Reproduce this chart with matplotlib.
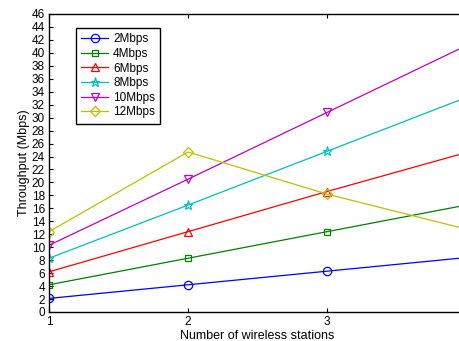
import matplotlib
matplotlib.use("Agg")
import matplotlib.pyplot as plt

plt.rcParams['font.family'] = ['Liberation Sans', 'DejaVu Sans']

stations = [1, 2, 3, 4]
labels = ["2Mbps", "4Mbps", "6Mbps", "8Mbps", "10Mbps", "12Mbps"]
tp_2 = [2.1, 4.2, 6.3, 8.4]
tp_4 = [4.2, 8.3, 12.4, 16.5]
tp_6 = [6.2, 12.4, 18.6, 24.6]
tp_8 = [8.3, 16.5, 24.8, 33.1]
tp_10 = [10.3, 20.5, 30.8, 41.1]
tp_12 = [12.4, 24.7, 18.2, 12.8]
series = [tp_2, tp_4, tp_6, tp_8, tp_10, tp_12]
colors = ['#0000ff', '#008000', '#ff0000', '#00bfbf', '#bf00bf', '#bfbf00']
markers = ['o', 's', '^', '*', 'v', 'D']
msizes = [6, 4.5, 6, 6.5, 6, 5]

fig = plt.figure(figsize=(4.6, 3.41), dpi=100)
ax = fig.add_axes([49/460, 29/341, 417/460, 298/341])

for vals, lab, c, m, ms in zip(series, labels, colors, markers, msizes):
    ax.plot(stations, vals, color=c, marker=m, markersize=ms, markerfacecolor='none',
            markeredgecolor=c, linewidth=0.9, markeredgewidth=0.9, label=lab)

ax.set_xlim(1, 4)
ax.set_ylim(0, 46)
ax.set_xticks([1, 2, 3])
ax.set_yticks(range(0, 47, 2))
ax.tick_params(direction='in', top=True, right=True, labelsize=8.5, length=3, width=0.8, pad=3)
for s in ax.spines.values():
    s.set_linewidth(1.0)
ax.set_xlabel("Number of wireless stations", fontsize=9, labelpad=1)
ax.set_ylabel("Throughput (Mbps)", fontsize=9, labelpad=1)

leg = ax.legend(loc='upper left', bbox_to_anchor=(27/417, 1 - 14/298), fontsize=8.5,
                frameon=True, fancybox=False, edgecolor='black', framealpha=1,
                borderpad=0.45, labelspacing=0.22, handlelength=2.3, handletextpad=0.4,
                borderaxespad=0)
leg.get_frame().set_linewidth(1.0)

fig.savefig("out.png", dpi=100)
